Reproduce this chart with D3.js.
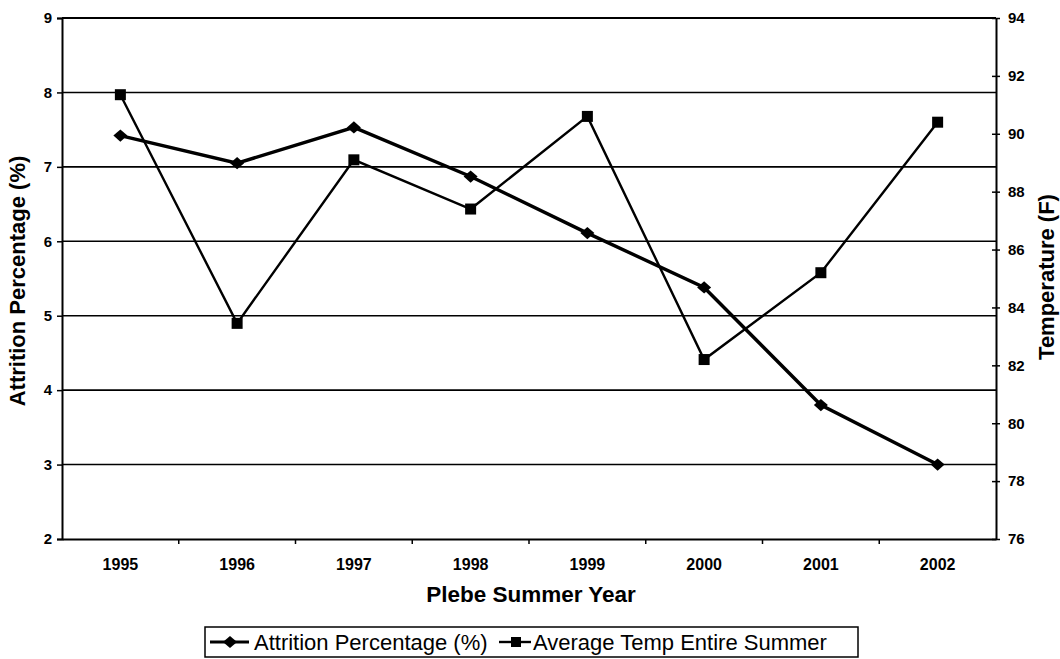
<!DOCTYPE html>
<html>
<head>
<meta charset="utf-8">
<script src="https://cdn.jsdelivr.net/npm/d3@7"></script>
<style>
  body { margin: 0; background: #fff; }
  svg { display: block; font-family: "Liberation Sans", Arial, sans-serif; }
</style>
</head>
<body>
<div id="chart"></div>
<script>
var years = ["1995", "1996", "1997", "1998", "1999", "2000", "2001", "2002"];
var attrition = [7.42, 7.05, 7.53, 6.87, 6.11, 5.38, 3.8, 3.0];
var avgTemp = [91.35, 83.45, 89.1, 87.4, 90.6, 82.2, 85.2, 90.4];
var leftTicks = [2, 3, 4, 5, 6, 7, 8, 9];
var rightTicks = [76, 78, 80, 82, 84, 86, 88, 90, 92, 94];

var W = 1060, H = 659;
var plot = { left: 62, right: 996, top: 18, bottom: 539 };

var svg = d3.select("#chart").append("svg")
    .attr("width", W)
    .attr("height", H);

var x = d3.scaleBand()
    .domain(years)
    .range([plot.left, plot.right]);

var yL = d3.scaleLinear()
    .domain([2, 9])
    .range([plot.bottom, plot.top]);

var yR = d3.scaleLinear()
    .domain([76, 94])
    .range([plot.bottom, plot.top]);

var cx = function(d, i) { return x(years[i]) + x.bandwidth() / 2; };

// gridlines at the left axis ticks
svg.append("g")
    .selectAll("line")
    .data(leftTicks.slice(1))
    .enter().append("line")
    .attr("x1", plot.left).attr("x2", plot.right)
    .attr("y1", function(d) { return yL(d); })
    .attr("y2", function(d) { return yL(d); })
    .attr("stroke", "#000")
    .attr("stroke-width", 1.6);

// left axis
var leftAxis = svg.append("g")
    .attr("transform", "translate(" + plot.left + ",0)")
    .call(d3.axisLeft(yL).tickValues(leftTicks).tickFormat(d3.format("d"))
        .tickSize(5).tickPadding(5));
leftAxis.select(".domain").attr("stroke-width", 2);
leftAxis.selectAll(".tick line").attr("stroke-width", 1.5);
leftAxis.selectAll("text")
    .attr("font-size", 15).attr("font-weight", "bold").attr("fill", "#000");

// right axis, ticks cross the line
var rightAxis = svg.append("g")
    .attr("transform", "translate(" + plot.right + ",0)")
    .call(d3.axisRight(yR).tickValues(rightTicks).tickSizeInner(4).tickSizeOuter(0).tickPadding(8));
rightAxis.select(".domain").attr("stroke-width", 2);
rightAxis.selectAll(".tick line").attr("x1", -4).attr("stroke-width", 1.5);
rightAxis.selectAll("text")
    .attr("font-size", 15).attr("font-weight", "bold").attr("fill", "#000");

// bottom axis with ticks between the years
var bottomAxis = svg.append("g")
    .attr("transform", "translate(0," + plot.bottom + ")")
    .call(d3.axisBottom(x).tickSize(0).tickPadding(20));
bottomAxis.select(".domain").attr("stroke-width", 2);
bottomAxis.selectAll("text")
    .attr("font-size", 16).attr("font-weight", "bold").attr("fill", "#000");
bottomAxis.selectAll(".sep")
    .data(years.slice(1))
    .enter().append("line")
    .attr("class", "sep")
    .attr("x1", function(d) { return x(d); })
    .attr("x2", function(d) { return x(d); })
    .attr("y1", 0).attr("y2", 5)
    .attr("stroke", "#000")
    .attr("stroke-width", 1.5);

// top border
svg.append("line")
    .attr("x1", plot.left).attr("x2", plot.right)
    .attr("y1", yL(9)).attr("y2", yL(9))
    .attr("stroke", "#000").attr("stroke-width", 2);

// temperature line (squares)
var tempLine = d3.line()
    .x(cx)
    .y(function(d) { return yR(d); });

svg.append("path")
    .datum(avgTemp)
    .attr("d", tempLine)
    .attr("fill", "none")
    .attr("stroke", "#000")
    .attr("stroke-width", 2.4);

svg.selectAll(".sq")
    .data(avgTemp)
    .enter().append("rect")
    .attr("class", "sq")
    .attr("x", function(d, i) { return cx(d, i) - 5.5; })
    .attr("y", function(d) { return yR(d) - 5.5; })
    .attr("width", 11).attr("height", 11)
    .attr("fill", "#000");

// attrition line (diamonds)
var attrLine = d3.line()
    .x(cx)
    .y(function(d) { return yL(d); });

svg.append("path")
    .datum(attrition)
    .attr("d", attrLine)
    .attr("fill", "none")
    .attr("stroke", "#000")
    .attr("stroke-width", 3.4);

var diamond = d3.symbol().type(d3.symbolDiamond2).size(95);
svg.selectAll(".dm")
    .data(attrition)
    .enter().append("path")
    .attr("class", "dm")
    .attr("d", diamond)
    .attr("transform", function(d, i) {
        return "translate(" + cx(d, i) + "," + yL(d) + ") scale(1.15,1)";
    })
    .attr("fill", "#000");

// axis titles
svg.append("text")
    .attr("x", 531)
    .attr("y", 602)
    .attr("text-anchor", "middle")
    .attr("font-size", 22.5).attr("font-weight", "bold")
    .text("Plebe Summer Year");

svg.append("text")
    .attr("transform", "translate(25,281) rotate(-90)")
    .attr("text-anchor", "middle")
    .attr("font-size", 22).attr("font-weight", "bold")
    .text("Attrition Percentage (%)");

svg.append("text")
    .attr("transform", "translate(1054,277) rotate(-90)")
    .attr("text-anchor", "middle")
    .attr("font-size", 22).attr("font-weight", "bold")
    .text("Temperature (F)");

// legend
var legend = svg.append("g");
legend.append("rect")
    .attr("x", 205).attr("y", 627)
    .attr("width", 653).attr("height", 30)
    .attr("fill", "#fff")
    .attr("stroke", "#000")
    .attr("stroke-width", 1.5);

legend.append("line")
    .attr("x1", 210).attr("x2", 249).attr("y1", 642).attr("y2", 642)
    .attr("stroke", "#000").attr("stroke-width", 3);
legend.append("path")
    .attr("d", diamond)
    .attr("transform", "translate(230,642) scale(1.15,1)");
legend.append("text")
    .attr("x", 254).attr("y", 650)
    .attr("font-size", 22)
    .text("Attrition Percentage (%)");

legend.append("line")
    .attr("x1", 499).attr("x2", 531).attr("y1", 642).attr("y2", 642)
    .attr("stroke", "#000").attr("stroke-width", 2.4);
legend.append("rect")
    .attr("x", 511).attr("y", 637).attr("width", 10).attr("height", 10);
legend.append("text")
    .attr("x", 533).attr("y", 650)
    .attr("font-size", 22)
    .text("Average Temp Entire Summer");
</script>
</body>
</html>
